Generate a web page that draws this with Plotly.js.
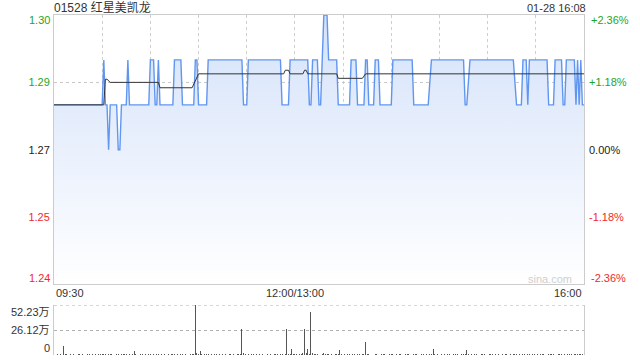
<!DOCTYPE html>
<html>
<head>
<meta charset="utf-8">
<script src="https://cdn.plot.ly/plotly-3.0.1.min.js"></script>
<style>html,body{margin:0;padding:0;background:#fff;}#chart{width:640px;height:360px;}</style>
</head>
<body>
<div id="chart"></div>
<script>
// ---- data ----
const titleText = "01528 红星美凯龙";
const stampText = "01-28 16:08";
const prevClose = 1.27;
const timeLabels = ["09:30", "12:00/13:00", "16:00"];
const timeLabelMinutes = [0, 150, 330];
const gridMinutes = [0, 30, 60, 90, 120, 150, 180, 210, 240, 270, 300, 330];

const priceMinutes = [0, 30, 31, 32, 33, 34, 35, 39, 40, 41, 42, 45, 46, 47, 59, 60, 62, 63, 64, 65, 66, 74, 75, 79, 80, 87, 88, 89, 90, 95, 96, 117, 118, 120, 121, 141, 142, 146, 147, 158, 159, 160, 161, 164, 165, 166, 168, 170, 171, 176, 177, 184, 185, 188, 189, 193, 194, 195, 196, 199, 200, 202, 203, 210, 211, 223, 224, 233, 235, 255, 256, 257, 259, 286, 288, 291, 292, 294, 295, 296, 307, 308, 311, 312, 316, 317, 318, 319, 324, 325, 326, 327, 328, 329, 330];
const prices = [1.28, 1.28, 1.29, 1.28, 1.28, 1.27, 1.28, 1.28, 1.27, 1.27, 1.28, 1.28, 1.29, 1.28, 1.28, 1.29, 1.29, 1.28, 1.28, 1.29, 1.28, 1.28, 1.29, 1.29, 1.28, 1.28, 1.29, 1.29, 1.28, 1.28, 1.29, 1.29, 1.28, 1.28, 1.29, 1.29, 1.28, 1.28, 1.29, 1.29, 1.28, 1.28, 1.29, 1.29, 1.28, 1.28, 1.30, 1.30, 1.29, 1.29, 1.28, 1.28, 1.29, 1.29, 1.28, 1.28, 1.29, 1.29, 1.28, 1.28, 1.29, 1.29, 1.28, 1.28, 1.29, 1.29, 1.28, 1.28, 1.29, 1.29, 1.28, 1.28, 1.29, 1.29, 1.28, 1.28, 1.29, 1.29, 1.28, 1.29, 1.29, 1.28, 1.28, 1.29, 1.29, 1.28, 1.28, 1.29, 1.29, 1.28, 1.29, 1.28, 1.29, 1.28, 1.28];

const avgMinutes = [0, 31, 32, 33, 35, 65, 66, 86, 90, 143, 144, 146, 147, 155, 156, 157, 158, 176, 177, 192, 194, 330];
const avgPrices = [1.28, 1.28, 1.2857, 1.2857, 1.285, 1.285, 1.2838, 1.2838, 1.2869, 1.2869, 1.2877, 1.2877, 1.2869, 1.2869, 1.2877, 1.2877, 1.2869, 1.2869, 1.2859, 1.2859, 1.2869, 1.2869];

const volumes = [
  15000, 4000, 6000, 3000, 8000, 5000, 94000, 12000, 6000, 4000, 9000, 3000, 7000, 5000, 4000, 11000, 6000, 3000, 8000, 5000,
  4000, 7000, 10000, 3000, 6000, 5000, 9000, 4000, 6000, 12000, 8000, 15000, 9000, 268000, 14000, 6000, 9000, 5000, 4000, 11000,
  7000, 5000, 13000, 6000, 8000, 10000, 4000, 6000, 5000, 9000, 42000, 7000, 5000, 4000, 8000, 6000, 3000, 10000, 5000, 7000,
  12000, 5000, 8000, 4000, 6000, 9000, 5000, 7000, 3000, 6000, 4000, 8000, 5000, 10000, 6000, 9000, 4000, 7000, 5000, 8000,
  6000, 4000, 9000, 5000, 3000, 7000, 6000, 11000, 522300, 16000, 9000, 40000, 8000, 5000, 7000, 12000, 6000, 4000, 8000, 5000,
  6000, 9000, 4000, 7000, 3000, 6000, 5000, 8000, 4000, 10000, 6000, 5000, 7000, 4000, 9000, 6000, 11000, 268000, 20000, 7000,
  5000, 8000, 4000, 6000, 9000, 3000, 7000, 5000, 6000, 4000, 8000, 5000, 10000, 6000, 4000, 7000, 5000, 9000, 6000, 8000,
  4000, 6000, 9000, 5000, 12000, 268000, 10000, 8000, 62000, 9000,
  15000, 7000, 5000, 9000, 12000, 20000, 268000, 25000, 62000, 14000, 446000, 18000, 9000, 6000, 11000, 7000, 5000, 13000, 20000, 9000,
  6000, 8000, 5000, 7000, 4000, 9000, 6000, 12000, 52000, 8000, 5000, 7000, 4000, 6000, 9000, 5000, 8000, 6000, 4000, 10000,
  7000, 5000, 8000, 6000, 136000, 12000, 9000, 5000, 7000, 4000, 6000, 8000, 5000, 3000, 7000, 6000, 9000, 4000, 5000, 8000,
  6000, 10000, 5000, 7000, 4000, 6000, 8000, 5000, 3000, 7000, 6000, 9000, 4000, 5000, 8000, 6000, 7000, 4000, 5000, 9000,
  6000, 4000, 8000, 5000, 12000, 9000, 62000, 7000, 5000, 6000, 4000, 8000, 5000, 7000, 3000, 6000, 9000, 5000, 4000, 7000,
  6000, 8000, 5000, 4000, 7000, 9000, 6000, 50000, 8000, 5000, 7000, 4000, 6000, 9000, 5000, 3000, 7000, 6000, 8000, 4000,
  5000, 7000, 6000, 9000, 4000, 8000, 5000, 6000, 3000, 7000, 5000, 8000, 6000, 4000, 9000, 5000, 11000, 7000, 6000, 4000,
  8000, 5000, 12000, 6000, 4000, 9000, 7000, 5000, 8000, 6000, 4000, 7000, 5000, 9000, 6000, 8000, 4000, 5000, 10000, 7000,
  6000, 9000, 5000, 4000, 8000, 6000, 7000, 5000, 9000, 4000, 6000, 8000, 11000, 5000, 7000, 6000, 9000, 8000, 12000, 7000, 15000
];
const volMinutes = volumes.map((v, i) => i);

const priceTicks = [1.24, 1.255, 1.27, 1.285, 1.30];
const priceTickText = ["1.24", "1.25", "1.27", "1.29", "1.30"];
const pctTicks = [-2.3622, -1.1811, 0, 1.1811, 2.3622];
const pctTickText = ["-2.36%", "-1.18%", "0.00%", "+1.18%", "+2.36%"];
const volTicks = [0, 261150, 522300];
const volTickText = ["0", "26.12万", "52.23万"];

// ---- styling ----
const GREEN = "#1fa51f", RED = "#f02a2a", BLACK = "#222";
const colorFor = (v) => v > 0 ? GREEN : (v < 0 ? RED : BLACK);
const FONT = "Arial, 'Liberation Sans', 'Noto Sans CJK SC', sans-serif";

const priceTextColored = priceTicks.map((t, i) => `<span style="color:${colorFor(t - prevClose)}">${priceTickText[i]}</span>`);
const pctTextColored = pctTicks.map((t, i) => `<span style="color:${colorFor(t)}">${pctTickText[i]}</span>`);

// inner ticks drawn by axes, edge ticks as annotations nudged inside (as in the source chart)
const inner = [1, 2, 3];
const edge = [0, 4];

const traces = [
  {
    x: priceMinutes, y: prices, xaxis: "x", yaxis: "y", type: "scatter", mode: "lines",
    line: { color: "rgba(80,140,238,0.9)", width: 1.4 },
    fill: "tozeroy",
    fillgradient: { type: "vertical", start: 1.24, stop: 1.30, colorscale: [[0, "rgba(255,255,255,1)"], [1, "rgb(212,226,250)"]] },
    hoverinfo: "skip", showlegend: false
  },
  {
    x: avgMinutes, y: avgPrices, xaxis: "x", yaxis: "y", type: "scatter", mode: "lines",
    line: { color: "#333", width: 1 }, hoverinfo: "skip", showlegend: false
  },
  {
    x: [priceMinutes[0], priceMinutes[priceMinutes.length - 1]],
    y: [pctTicks[0], pctTicks[pctTicks.length - 1]],
    xaxis: "x", yaxis: "y3", type: "scatter", mode: "lines",
    line: { width: 0, color: "rgba(0,0,0,0)" }, hoverinfo: "skip", showlegend: false
  },
  {
    x: volMinutes, y: volumes, xaxis: "x2", yaxis: "y2", type: "bar",
    marker: { color: "#555", line: { width: 0 } }, width: 0.6,
    hoverinfo: "skip", showlegend: false
  }
];

const lblFont = (c) => ({ family: FONT, size: 11, color: c });
const annotations = [
  { text: stampText, xref: "paper", yref: "paper", x: 1 + 4 / 530, y: (355 - 8) / 340, xanchor: "right", yanchor: "middle", showarrow: false, font: lblFont("#333") },
  { text: timeLabels[0], xref: "x", yref: "paper", x: timeLabelMinutes[0], y: (355 - 293) / 340, xanchor: "left", yanchor: "middle", showarrow: false, font: lblFont("#333") },
  { text: timeLabels[1], xref: "x", yref: "paper", x: timeLabelMinutes[1], y: (355 - 293) / 340, xanchor: "center", yanchor: "middle", showarrow: false, font: lblFont("#333") },
  { text: timeLabels[2], xref: "x", yref: "paper", x: timeLabelMinutes[2], y: (355 - 293) / 340, xanchor: "right", yanchor: "middle", showarrow: false, font: lblFont("#333") },
  { text: "sina.com", xref: "paper", yref: "paper", x: (574 - 54) / 530, y: (355 - 279) / 340, xanchor: "right", yanchor: "middle", showarrow: false, font: lblFont("#cfcfcf") }
];
edge.forEach((i) => {
  const sh = i === 4 ? -5 : 6;
  annotations.push({ text: priceTickText[i], xref: "paper", yref: "y", x: 0, y: priceTicks[i], xanchor: "right", yanchor: "middle", xshift: -2, yshift: sh, showarrow: false, font: lblFont(colorFor(priceTicks[i] - prevClose)) });
  annotations.push({ text: pctTickText[i], xref: "paper", yref: "y3", x: 1, y: pctTicks[i], xanchor: "left", yanchor: "middle", xshift: 5, yshift: sh, showarrow: false, font: lblFont(colorFor(pctTicks[i])) });
});
const volShift = [7, 0, -7];
volTicks.forEach((t, i) => {
  annotations.push({ text: volTickText[i], xref: "paper", yref: "y2", x: 0, y: t, xanchor: "right", yanchor: "middle", xshift: -2, yshift: volShift[i], showarrow: false, font: lblFont("#333") });
});

const layout = {
  width: 640, height: 360,
  margin: { l: 54, r: 56, t: 15, b: 5 },
  paper_bgcolor: "#fff", plot_bgcolor: "#fff",
  font: { family: FONT, size: 11, color: "#333" },
  hovermode: false,
  bargap: 0,
  title: { text: titleText, x: 54 / 640, xanchor: "left", xref: "container", y: 1 - 8 / 360, yanchor: "middle", yref: "container", font: { family: FONT, size: 12, color: "#333" } },
  xaxis: {
    domain: [0, 1], range: [0, 330], anchor: "y",
    tickmode: "array", tickvals: gridMinutes, showticklabels: false, ticks: "",
    showgrid: true, gridcolor: "#cfcfcf", griddash: "dot", gridwidth: 1,
    showline: true, mirror: true, linecolor: "#cccccc", linewidth: 1, zeroline: false, fixedrange: true
  },
  yaxis: {
    domain: [0.2074, 1], range: [1.24, 1.30], anchor: "x",
    tickmode: "array", tickvals: inner.map(i => priceTicks[i]), ticktext: inner.map(i => priceTextColored[i]), ticks: "",
    ticklabelstandoff: 1,
    showgrid: true, gridcolor: "#c8c8c8", griddash: "dot", gridwidth: 1,
    showline: true, mirror: true, linecolor: "#cccccc", zeroline: false, fixedrange: true,
    tickfont: { family: FONT, size: 11 }
  },
  yaxis3: {
    overlaying: "y", side: "right", anchor: "x", range: [pctTicks[0], pctTicks[pctTicks.length - 1]],
    tickmode: "array", tickvals: inner.map(i => pctTicks[i]), ticktext: inner.map(i => pctTextColored[i]), ticks: "",
    ticklabelstandoff: 4,
    showgrid: false, zeroline: false, showline: false, fixedrange: true,
    tickfont: { family: FONT, size: 11 }
  },
  xaxis2: {
    domain: [0, 1], range: [0, 330], anchor: "y2",
    showticklabels: false, ticks: "", showgrid: false, zeroline: false, showline: false, fixedrange: true
  },
  yaxis2: {
    domain: [0, 0.147], range: [0, 522300], anchor: "x2",
    tickmode: "array", tickvals: volTicks, showticklabels: false, ticks: "",
    showgrid: true, gridcolor: "#b0b0b0", griddash: "dot", gridwidth: 1,
    showline: true, mirror: true, linecolor: "#cccccc", zeroline: false, fixedrange: true
  },
  shapes: [
    { type: "line", xref: "x2", yref: "y2", x0: 0, x1: 330, y0: volTicks[2], y1: volTicks[2], line: { color: "#b0b0b0", width: 1, dash: "dot" } }
  ],
  annotations: annotations
};

Plotly.newPlot("chart", traces, layout, { staticPlot: true, displayModeBar: false });
</script>
</body>
</html>
